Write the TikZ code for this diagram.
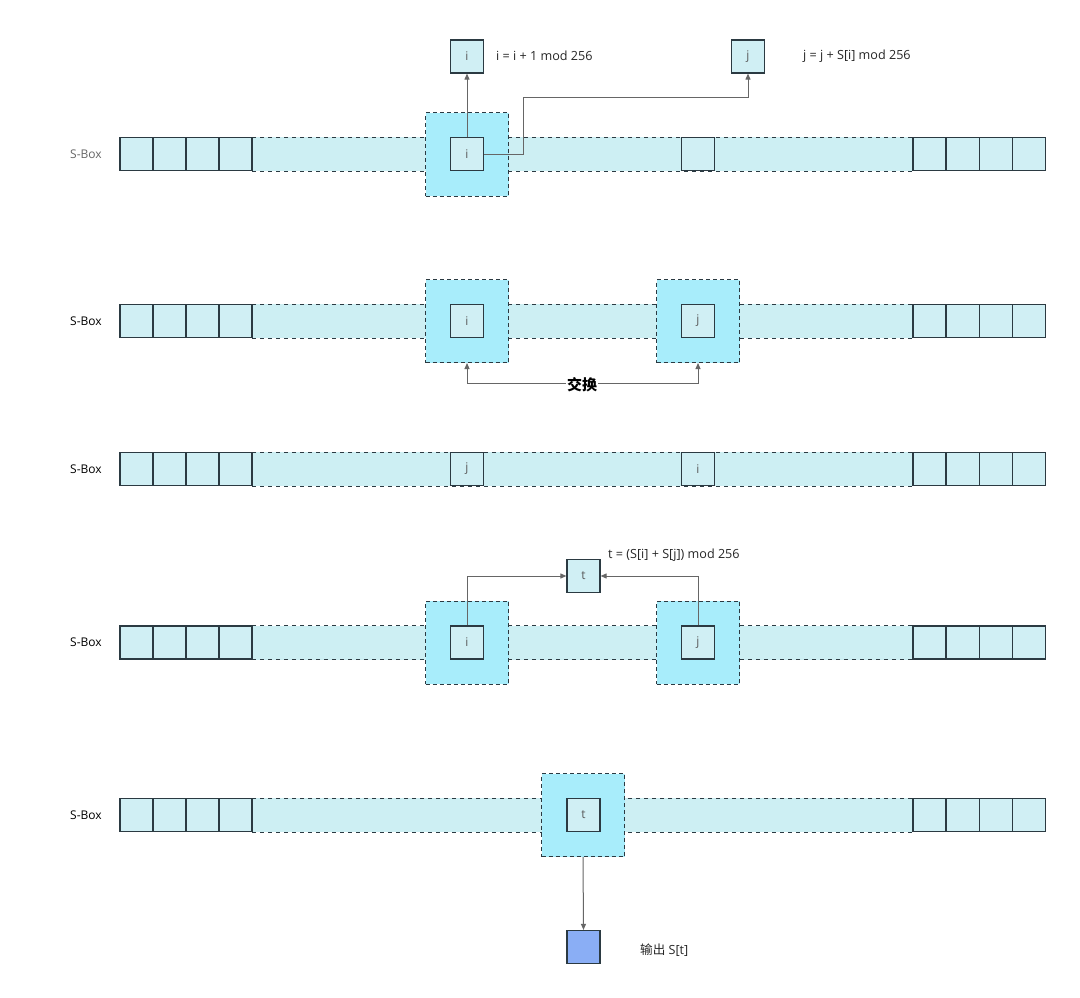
\documentclass[tikz,border=0pt]{standalone}
\usepackage{fontspec}
\setmainfont{Open Sans}
\newfontfamily\cjk{Noto Sans CJK SC}
\usetikzlibrary{arrows.meta}
\definecolor{cellfill}{HTML}{D0EFF4}
\definecolor{hlfill}{HTML}{A8EDFB}
\definecolor{bandfill}{HTML}{CDEFF3}
\definecolor{edgec}{HTML}{2B3A42}
\definecolor{outfill}{HTML}{8AAEF5}
\definecolor{linec}{HTML}{666666}
\tikzset{
  cell/.style={draw=edgec, fill=cellfill, line width=1.2pt, minimum size=33pt, inner sep=0pt, text=black!65, font=\fontsize{12}{14}\selectfont},
  hl/.style={draw=edgec, fill=hlfill, line width=1pt, dash pattern=on 4pt off 3pt, minimum size=83pt, inner sep=0pt},
  band/.style={draw=edgec, fill=bandfill, line width=1pt, dash pattern=on 4pt off 4pt, minimum width=661pt, minimum height=34pt, inner sep=0pt},
  lbl/.style={font=\fontsize{12}{14}\selectfont, inner sep=0pt},
  txt/.style={font=\fontsize{12.6}{14}\selectfont, inner sep=0pt, anchor=west, text=black!85},
  arr/.style={draw=linec, line width=1pt, -{Triangle[length=6pt,width=5pt]}},
  darr/.style={draw=linec, line width=1pt, {Triangle[length=6pt,width=5pt]}-{Triangle[length=6pt,width=5pt]}},
}
\newcommand\sboxrow[3]{%
  \node[lbl, text=#3] (#1lab) at (86,#2) {S-Box};
  \node[band] (#1band) at (582.5,#2) {};
  \foreach \k in {0,...,3}{
    \node[cell] (#1L\k) at ({136.5+33*\k},#2) {};
    \node[cell] (#1R\k) at ({929.5+33.2*\k},#2) {};
  }%
}
\begin{document}
\begin{tikzpicture}[x=1pt,y=-1pt]
\useasboundingbox[fill=white] (0,0) rectangle (1080,998);

% ---------- Row 1 ----------
\sboxrow{ra}{154}{black!60}
\node[hl] (rahi) at (467,154.5) {};
\node[cell] (rai) at (467,154) {i};
\node[cell] (rax) at (698,154) {};
\node[cell] (topi) at (467,56.5) {i};
\node[cell] (topj) at (748,56.5) {j};
\node[txt] (labi) at (496,56) {i = i + 1 mod 256};
\node[txt] (labj) at (803,56) {j = j + S[i] mod 256};
\draw[arr] (rai.north) -- (topi.south);
\draw[arr] (rai.east) -- ++(39,0) |- ([yshift=-24pt]topj.south) -- (topj.south);

% ---------- Row 2 ----------
\sboxrow{rb}{321}{black}
\node[hl] (rbhi) at (467,321) {};
\node[hl] (rbhj) at (698,321) {};
\node[cell] (rbi) at (467,321) {i};
\node[cell] (rbj) at (698,321) {j};
\draw[darr] (rbhi.south) -- ++(0,20) -| (rbhj.south);
\node[fill=white, inner sep=1pt, font=\cjk\bfseries\fontsize{15}{16}\selectfont] (swap) at (582,385) {交换};

% ---------- Row 3 ----------
\sboxrow{rc}{469}{black}
\node[cell] (rcj) at (467,469) {j};
\node[cell] (rci) at (698,469) {i};

% ---------- Row 4 ----------
\sboxrow{rd}{642.5}{black}
\node[hl] (rdhi) at (467,642.5) {};
\node[hl] (rdhj) at (698,642.5) {};
\node[cell] (rdi) at (467,642.5) {i};
\node[cell] (rdj) at (698,642.5) {j};
\node[cell] (tbox) at (583.5,576) {t};
\node[txt] (labt) at (608,555) {t = (S[i] + S[j]) mod 256};
\draw[arr] (rdi.north) |- (tbox.west);
\draw[arr] (rdj.north) |- (tbox.east);

% ---------- Row 5 ----------
\sboxrow{re}{815}{black}
\node[hl] (rehl) at (583,815) {};
\node[cell] (ret) at (583.5,815) {t};
\node[cell, fill=outfill] (outb) at (583.5,947) {};
\node[txt] (labo) at (640,950) {{\cjk 输出} S[t]};
\draw[arr] (rehl.south) -- (outb.north);
\end{tikzpicture}
\end{document}
